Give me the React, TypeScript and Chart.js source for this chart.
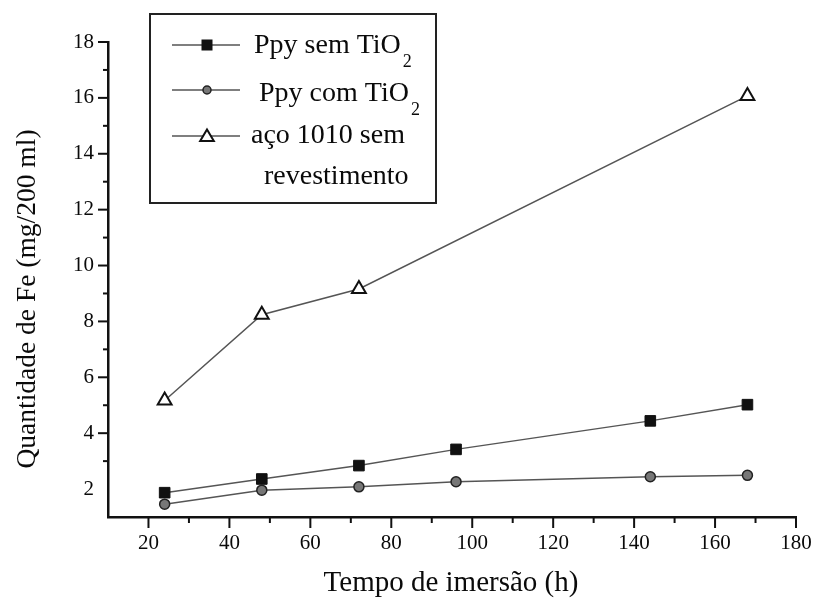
import React, { useEffect, useRef } from 'react';
import { Chart, registerables } from 'chart.js';

Chart.register(...registerables);

// ---- data ----
const hours = [24, 48, 72, 96, 144, 168];
const ppySemTiO2 = [1.87, 2.36, 2.84, 3.42, 4.44, 5.02];
const ppyComTiO2 = [1.46, 1.96, 2.08, 2.26, 2.44, 2.49];
const acoHours = [24, 48, 72, 168];
const aco1010 = [5.17, 8.24, 9.16, 16.07];

const xTickLabels = [20, 40, 60, 80, 100, 120, 140, 160, 180];
const yTickLabels = [2, 4, 6, 8, 10, 12, 14, 16, 18];

const legendLabels = ['Ppy sem TiO', 'Ppy com TiO', 'aço 1010 sem', 'revestimento'];
const subscript = '2';
const xTitle = 'Tempo de imersão (h)';
const yTitle = 'Quantidade de Fe (mg/200 ml)';

const FONT = '"Liberation Serif", "DejaVu Serif", serif';
const LINE_COLOR = '#555555';
const TEXT_COLOR = '#0a0a0a';

function drawMarker(ctx: CanvasRenderingContext2D, kind: string, x: number, y: number, s: number) {
  ctx.save();
  if (kind === 'rect') {
    ctx.fillStyle = '#111';
    ctx.fillRect(x - s, y - s, 2 * s, 2 * s);
  } else if (kind === 'circle') {
    ctx.beginPath();
    ctx.arc(x, y, s, 0, Math.PI * 2);
    ctx.fillStyle = '#777';
    ctx.fill();
    ctx.lineWidth = 1.5;
    ctx.strokeStyle = '#222';
    ctx.stroke();
  } else {
    ctx.beginPath();
    ctx.moveTo(x, y - s);
    ctx.lineTo(x + s * 1.05, y + s * 0.75);
    ctx.lineTo(x - s * 1.05, y + s * 0.75);
    ctx.closePath();
    ctx.fillStyle = '#fff';
    ctx.fill();
    ctx.lineWidth = 2;
    ctx.strokeStyle = '#111';
    ctx.stroke();
  }
  ctx.restore();
}

const decorPlugin = {
  id: 'decor',
  afterDraw(chart: any) {
    const ctx: CanvasRenderingContext2D = chart.ctx;
    const xs = chart.scales.x;
    const ys = chart.scales.y;
    const area = chart.chartArea;
    ctx.save();
    ctx.strokeStyle = '#111';
    ctx.lineWidth = 2;
    // x ticks (major every 20, minor every 10)
    for (let v = 20; v <= 180; v += 10) {
      const px = xs.getPixelForValue(v);
      const len = xTickLabels.includes(v) ? 11 : 6;
      ctx.beginPath();
      ctx.moveTo(px, area.bottom);
      ctx.lineTo(px, area.bottom + len);
      ctx.stroke();
    }
    // y ticks (major every 2, minor every 1)
    for (let v = 3; v <= 18; v += 1) {
      const py = ys.getPixelForValue(v);
      const len = yTickLabels.includes(v) ? 10 : 5;
      ctx.beginPath();
      ctx.moveTo(area.left, py);
      ctx.lineTo(area.left - len, py);
      ctx.stroke();
    }

    // axis titles
    ctx.fillStyle = TEXT_COLOR;
    ctx.font = `29px ${FONT}`;
    ctx.textAlign = 'center';
    ctx.textBaseline = 'alphabetic';
    ctx.fillText(xTitle, 451, 591);

    ctx.save();
    ctx.translate(35, 299);
    ctx.rotate(-Math.PI / 2);
    ctx.font = `27.5px ${FONT}`;
    ctx.textAlign = 'center';
    ctx.textBaseline = 'alphabetic';
    ctx.fillText(yTitle, 0, 0);
    ctx.restore();

    // legend box
    ctx.lineWidth = 2;
    ctx.strokeStyle = '#222';
    ctx.strokeRect(150, 14, 286, 189);

    const rows = [
      { y: 45, kind: 'rect', size: 5.5 },
      { y: 90, kind: 'circle', size: 4 },
      { y: 136, kind: 'triangle', size: 6.5 },
    ];
    rows.forEach((r) => {
      ctx.strokeStyle = LINE_COLOR;
      ctx.lineWidth = 1.5;
      ctx.beginPath();
      ctx.moveTo(172, r.y);
      ctx.lineTo(240, r.y);
      ctx.stroke();
      drawMarker(ctx, r.kind, 207, r.y, r.size);
    });

    ctx.fillStyle = TEXT_COLOR;
    ctx.textAlign = 'left';
    ctx.textBaseline = 'alphabetic';
    const big = `28px ${FONT}`;
    const small = `18px ${FONT}`;
    const drawSub = (label: string, x: number, y: number) => {
      ctx.font = big;
      ctx.fillText(label, x, y);
      const w = ctx.measureText(label).width;
      ctx.font = small;
      ctx.fillText(subscript, x + w + 2, y + 14);
    };
    drawSub(legendLabels[0], 254, 53);
    drawSub(legendLabels[1], 259, 101);
    ctx.font = big;
    ctx.fillText(legendLabels[2], 251, 143);
    ctx.fillText(legendLabels[3], 264, 184);
    ctx.restore();
  },
};

export default function App() {
  const ref = useRef<HTMLCanvasElement | null>(null);

  useEffect(() => {
    if (!ref.current) return;
    const common = {
      borderColor: LINE_COLOR,
      borderWidth: 1.5,
      showLine: true,
      tension: 0,
      fill: false,
    };
    const chart = new Chart(ref.current, {
      type: 'scatter',
      data: {
        datasets: [
          {
            ...common,
            label: legendLabels[0] + subscript,
            data: hours.map((h, i) => ({ x: h, y: ppySemTiO2[i] })),
            pointStyle: 'rect',
            pointRadius: 7.5,
            pointBackgroundColor: '#111',
            pointBorderColor: '#111',
            pointBorderWidth: 1,
          },
          {
            ...common,
            label: legendLabels[1] + subscript,
            data: hours.map((h, i) => ({ x: h, y: ppyComTiO2[i] })),
            pointStyle: 'circle',
            pointRadius: 5,
            pointBackgroundColor: '#777',
            pointBorderColor: '#222',
            pointBorderWidth: 1.5,
          },
          {
            ...common,
            label: legendLabels[2] + ' ' + legendLabels[3],
            data: acoHours.map((h, i) => ({ x: h, y: aco1010[i] })),
            pointStyle: 'triangle',
            pointRadius: 8,
            pointBackgroundColor: '#fff',
            pointBorderColor: '#111',
            pointBorderWidth: 2,
          },
        ],
      },
      options: {
        animation: false,
        responsive: false,
        maintainAspectRatio: false,
        layout: { padding: { top: 42, right: 17, left: 0, bottom: 0 } },
        plugins: {
          legend: { display: false },
          tooltip: { enabled: false },
        },
        scales: {
          x: {
            type: 'linear',
            min: 10,
            max: 180,
            afterFit: (s: any) => {
              s.height = 81;
              s.paddingLeft = 0;
              s.paddingRight = 0;
            },
            grid: { display: false, drawTicks: false },
            border: { display: true, color: '#111', width: 2.5 },
            ticks: {
              stepSize: 10,
              autoSkip: false,
              maxRotation: 0,
              padding: 14,
              color: TEXT_COLOR,
              font: { family: FONT, size: 21 },
              callback: (v: any) => (xTickLabels.includes(Number(v)) ? String(v) : ''),
            },
          },
          y: {
            type: 'linear',
            min: 1,
            max: 18,
            afterFit: (s: any) => {
              s.width = 108;
              s.paddingTop = 0;
              s.paddingBottom = 0;
            },
            grid: { display: false, drawTicks: false },
            border: { display: true, color: '#111', width: 2.5 },
            ticks: {
              stepSize: 1,
              autoSkip: false,
              padding: 14,
              color: TEXT_COLOR,
              font: { family: FONT, size: 21 },
              callback: (v: any) => (yTickLabels.includes(Number(v)) ? String(v) : ''),
            },
          },
        },
      },
      plugins: [decorPlugin],
    } as any);
    return () => chart.destroy();
  }, []);

  return (
    <div style={{ position: 'fixed', left: 0, top: 0, width: 813, height: 598, background: '#fff' }}>
      <canvas ref={ref} width={813} height={598} />
    </div>
  );
}
